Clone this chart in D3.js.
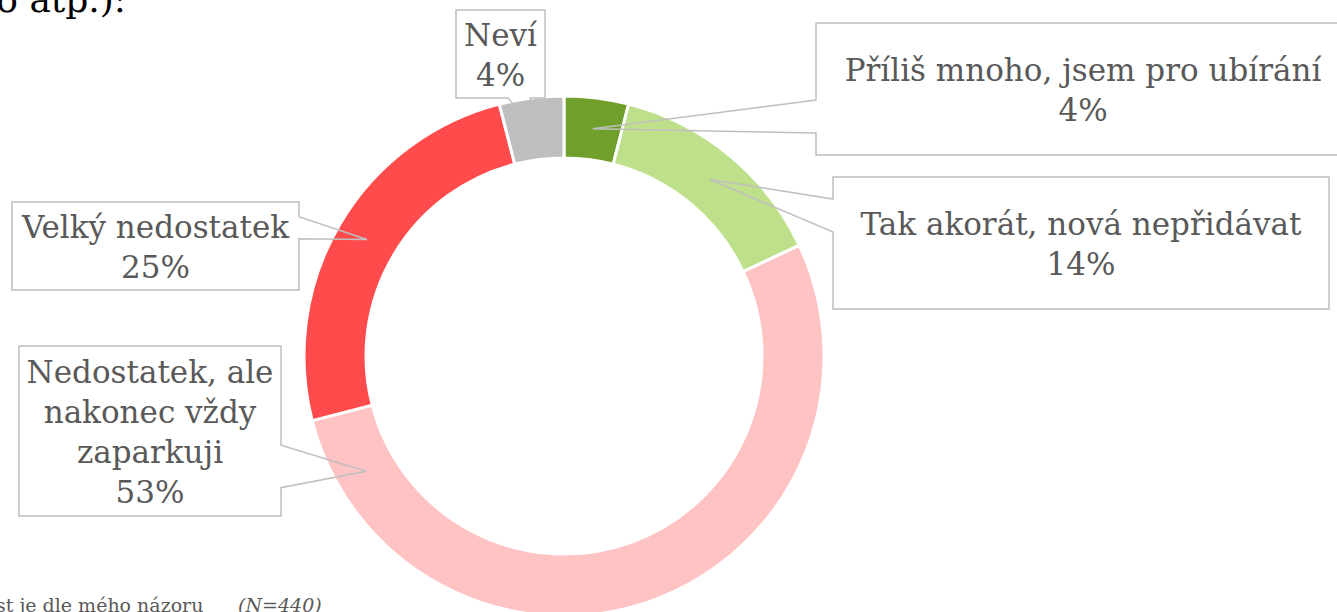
<!DOCTYPE html>
<html>
<head>
<meta charset="utf-8">
<script src="https://cdn.jsdelivr.net/npm/d3@7"></script>
<style>
  html, body { margin: 0; padding: 0; background: #fff; overflow: hidden; }
  svg { display: block; }
  text { font-family: "DejaVu Serif", "Liberation Serif", serif; fill: #595959; }
</style>
</head>
<body>
<svg id="chart" width="1337" height="612"></svg>
<script>
// ---- data ----
const categories = [
  "Příliš mnoho, jsem pro ubírání",
  "Tak akorát, nová nepřidávat",
  "Nedostatek, ale nakonec vždy zaparkuji",
  "Velký nedostatek",
  "Neví"
];
const labelLines = [
  ["Příliš mnoho, jsem pro ubírání"],
  ["Tak akorát, nová nepřidávat"],
  ["Nedostatek, ale", "nakonec vždy", "zaparkuji"],
  ["Velký nedostatek"],
  ["Neví"]
];
const values = [4, 14, 53, 25, 4];
const colors = ["#70A02B", "#BEE08B", "#FFC3C3", "#FF4B4B", "#BFBFBF"];
const titleTail = "o atp.):";
const footText = "st je dle mého názoru";
const footN = "(N=440)";

// ---- layout ----
const W = 1337, H = 612;
const cx = 564, cy = 356, rOuter = 260, rInner = 198;
const boxes = [
  {x: 816, y: 23,  w: 534, h: 132, anchor: 0.5},
  {x: 833, y: 177, w: 496, h: 132, anchor: 0.5},
  {x: 19,  y: 346, w: 262, h: 170, anchor: 0.917},
  {x: 12,  y: 202, w: 287, h: 88,  anchor: 0.5},
  {x: 456, y: 10,  w: 89,  h: 88,  anchor: 0.5}
];
const fontSize = 31, lineH = 40;

const svg = d3.select("#chart");

const pie = d3.pie().sort(null).value(d => d);
const arcs = pie(values);
const arc = d3.arc().innerRadius(rInner).outerRadius(rOuter);

const g = svg.append("g").attr("transform", `translate(${cx},${cy})`);
g.selectAll("path.slice")
  .data(arcs)
  .join("path")
  .attr("class", "slice")
  .attr("d", arc)
  .attr("fill", (d, i) => colors[i])
  .attr("stroke", "#fff")
  .attr("stroke-width", 3);

// callouts
const rMid = (rInner + rOuter) / 2;
arcs.forEach((d, i) => {
  const b = boxes[i];
  const ang = d.startAngle + (d.endAngle - d.startAngle) * b.anchor;
  const tx = cx + rMid * Math.sin(ang);
  const ty = cy - rMid * Math.cos(ang);
  const bcx = b.x + b.w / 2, bcy = b.y + b.h / 2;
  let side;
  if (ty > b.y + b.h) side = "bottom";
  else if (ty < b.y) side = "top";
  else if (tx < b.x) side = "left";
  else side = "right";
  const p = d3.path();
  const x0 = b.x, y0 = b.y, x1 = b.x + b.w, y1 = b.y + b.h;
  const f1 = 1/6, f2 = 5/12, f3 = 7/12, f4 = 5/6;
  p.moveTo(x0, y0);
  if (side === "top") {
    const [a1, a2] = tx > bcx ? [f3, f4] : [f1, f2];
    p.lineTo(x0 + b.w * a1, y0); p.lineTo(tx, ty); p.lineTo(x0 + b.w * a2, y0);
  }
  p.lineTo(x1, y0);
  if (side === "right") {
    const [a1, a2] = ty > bcy ? [f3, f4] : [f1, f2];
    p.lineTo(x1, y0 + b.h * a1); p.lineTo(tx, ty); p.lineTo(x1, y0 + b.h * a2);
  }
  p.lineTo(x1, y1);
  if (side === "bottom") {
    const [a1, a2] = tx > bcx ? [f4, f3] : [f2, f1];
    p.lineTo(x0 + b.w * a1, y1); p.lineTo(tx, ty); p.lineTo(x0 + b.w * a2, y1);
  }
  p.lineTo(x0, y1);
  if (side === "left") {
    const [a1, a2] = ty > bcy ? [f4, f3] : [f2, f1];
    p.lineTo(x0, y0 + b.h * a1); p.lineTo(tx, ty); p.lineTo(x0, y0 + b.h * a2);
  }
  p.closePath();
  svg.append("path")
    .attr("d", p.toString())
    .attr("fill", "none")
    .attr("stroke", "#BFBFBF")
    .attr("stroke-width", 1.5)
    .attr("stroke-linejoin", "miter");

  const lines = labelLines[i].concat([d3.format(".0f")(values[i]) + "%"]);
  const n = lines.length;
  const firstBase = bcy + 12 - (n - 1) * lineH / 2;
  const t = svg.append("text")
    .attr("text-anchor", "middle")
    .attr("font-size", fontSize);
  lines.forEach((ln, k) => {
    t.append("tspan").attr("x", bcx).attr("y", firstBase + k * lineH).text(ln);
  });
});

// partial title and footnote (cropped in the reference)
svg.append("text")
  .attr("x", 126).attr("y", 12)
  .attr("text-anchor", "end")
  .attr("font-size", 36)
  .style("fill", "#000")
  .text(titleTail);

svg.append("text")
  .attr("x", -4).attr("y", 612)
  .attr("font-size", 19)
  .text(footText);
svg.append("text")
  .attr("x", 238).attr("y", 612)
  .attr("font-size", 19)
  .attr("font-style", "italic")
  .text(footN);
</script>
</body>
</html>
